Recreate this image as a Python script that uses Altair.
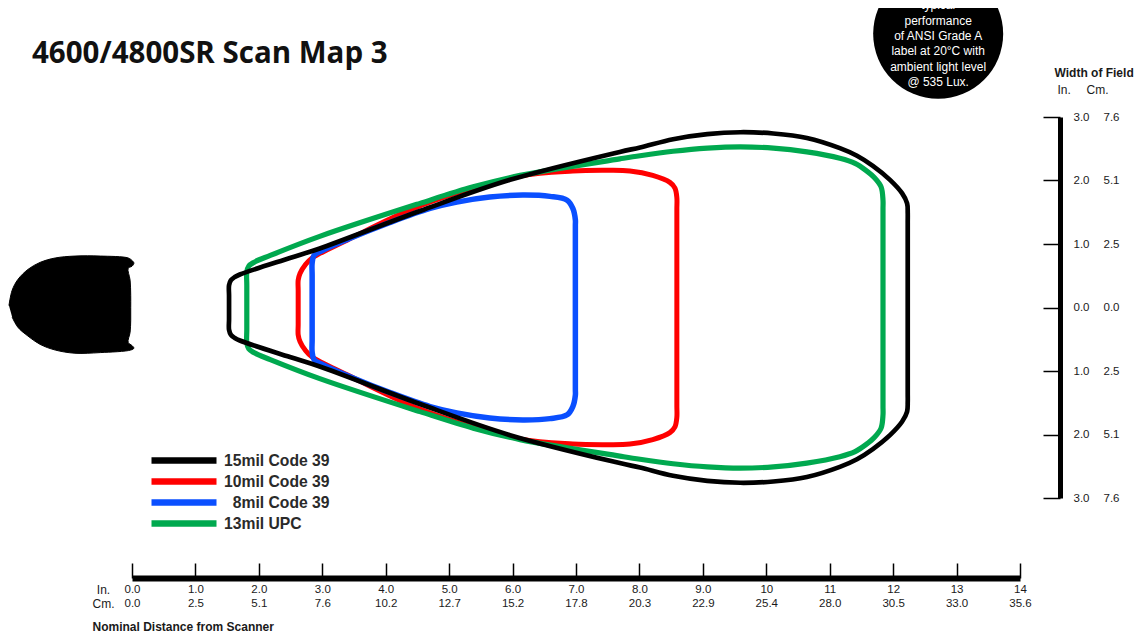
import json
import altair as alt
import pandas as pd

SERIES = ["15mil Code 39", "10mil Code 39", "\u200b\u20078mil Code 39", "13mil UPC"]
COLORS = ["#000000", "#ff0000", "#0a4fff", "#00a94f"]

black_x = [1.53, 1.53, 1.53, 1.56, 1.62, 1.70, 2.49, 2.96, 4.54, 5.96, 7.69, 8.01, 8.53, 9.07, 9.59, 10.11, 10.64, 11.16, 11.43, 11.68, 11.95, 12.14, 12.22, 12.23, 12.23, 12.23]
black_y = [0, 0.19, 0.35, 0.43, 0.48, 0.52, 0.78, 0.93, 1.52, 2.01, 2.45, 2.52, 2.65, 2.73, 2.76, 2.74, 2.67, 2.51, 2.39, 2.23, 2.01, 1.80, 1.64, 1.49, 1.34, 0]
red_x = [2.62, 2.62, 2.62, 2.65, 2.73, 2.84, 3.39, 4.54, 6.12, 6.95, 7.49, 7.85, 8.21, 8.48, 8.56, 8.59, 8.59, 8.59, 8.59]
red_y = [0, 0.27, 0.43, 0.54, 0.67, 0.78, 1.06, 1.60, 2.07, 2.15, 2.16, 2.15, 2.08, 1.97, 1.88, 1.73, 1.56, 1.47, 0]
blue_x = [2.84, 2.84, 2.84, 2.87, 3.01, 3.44, 4.07, 4.70, 5.12, 5.64, 6.16, 6.59, 6.86, 6.95, 6.99, 6.99, 6.99]
blue_y = [0, 0.51, 0.70, 0.82, 0.90, 1.09, 1.34, 1.56, 1.66, 1.74, 1.77, 1.75, 1.69, 1.56, 1.38, 1.29, 0]
green_x = [1.81, 1.81, 1.81, 1.84, 1.92, 2.18, 2.96, 4.54, 5.38, 6.12, 7.69, 8.01, 8.53, 9.07, 9.59, 10.11, 10.64, 11.16, 11.40, 11.57, 11.71, 11.81, 11.84, 11.84, 11.84, 11.84]
green_y = [0, 0.35, 0.56, 0.65, 0.71, 0.82, 1.12, 1.64, 1.90, 2.08, 2.34, 2.39, 2.46, 2.51, 2.53, 2.51, 2.45, 2.35, 2.27, 2.16, 2.04, 1.90, 1.69, 1.56, 1.34, 0]

scanner_x = [-1.94, -1.89, -1.80, -1.64, -1.45, -1.21, -0.90, -0.50, -0.06, 0, 0.03, 0, -0.06, -0.03, -0.02, -0.02, -0.02, -0.03, -0.06, 0, 0.03, -0.02, -0.50, -0.90, -1.21, -1.45, -1.64, -1.80, -1.89]
scanner_y = [0.03, 0.27, 0.44, 0.60, 0.71, 0.78, 0.81, 0.81, 0.78, 0.74, 0.70, 0.65, 0.62, 0.43, 0.19, 0, -0.20, -0.39, -0.55, -0.60, -0.64, -0.67, -0.71, -0.72, -0.67, -0.58, -0.45, -0.31, -0.15]

x_ticks = list(range(15))
x_in_labels = ["0.0", "1.0", "2.0", "3.0", "4.0", "5.0", "6.0", "7.0", "8.0", "9.0", "10", "11", "12", "13", "14"]
x_cm_labels = ["0.0", "2.5", "5.1", "7.6", "10.2", "12.7", "15.2", "17.8", "20.3", "22.9", "25.4", "28.0", "30.5", "33.0", "35.6"]
y_ticks = [-3, -2, -1, 0, 1, 2, 3]
y_in_labels = ["3.0", "2.0", "1.0", "0.0", "1.0", "2.0", "3.0"]
y_cm_labels = ["7.6", "5.1", "2.5", "0.0", "2.5", "5.1", "7.6"]

badge_lines = ["typical", "performance", "of ANSI Grade A", "label at 20\u00b0C with", "ambient light level", "@ 535 Lux."]
badge_text_y = [4.77, 4.51, 4.28, 4.04, 3.79, 3.55]
badge_x = 12.71
badge_y = 4.31

FONT = "Liberation Sans"
INK = "#1a1a1a"
xs = alt.Scale(domain=[0, 14], zero=False, nice=False)
ys = alt.Scale(domain=[-3, 3], zero=False, nice=False)
color_scale = alt.Scale(domain=SERIES, range=COLORS)


def outline(name, xv, yv):
    xx = list(xv) + list(reversed(xv[:-1]))
    yy = list(yv) + [-v for v in reversed(yv[:-1])]
    return pd.DataFrame({"x": xx, "y": yy, "series": name, "i": range(len(xx))})


def line_layer(name, xv, yv, sw):
    return alt.Chart(outline(name, xv, yv)).mark_line(
        strokeWidth=sw, interpolate="catmull-rom", strokeJoin="round"
    ).encode(
        x=alt.X("x:Q", scale=xs, axis=None),
        y=alt.Y("y:Q", scale=ys, axis=None),
        order="i:Q",
        color=alt.Color(
            "series:N", scale=color_scale,
            legend=alt.Legend(
                orient="none", legendX=16, legendY=333, title=None,
                symbolType="stroke", symbolSize=4225, symbolStrokeWidth=6.5,
                clipHeight=21, labelFontSize=15.7, labelFont=FONT, labelFontWeight="bold",
                labelColor="#2a2a2a", labelOffset=4, rowPadding=0,
            ),
        ),
    )


def x_axis_layer(**axis):
    return alt.Chart(pd.DataFrame({"v": x_ticks})).mark_point(opacity=0).encode(
        x=alt.X("v:Q", scale=xs, title=axis.pop("title", None), axis=alt.Axis(values=x_ticks, grid=False, labelOverlap=False, labelFlush=False, **axis))
    )


def y_axis_layer(**axis):
    return alt.Chart(pd.DataFrame({"v": y_ticks})).mark_point(opacity=0).encode(
        y=alt.Y("v:Q", scale=ys, title=axis.pop("title", None), axis=alt.Axis(values=y_ticks, grid=False, labelOverlap=False, labelFlush=False, **axis))
    )


label_style = dict(domain=False, ticks=False, labels=True, labelPadding=0, labelFont=FONT, labelFontSize=11.5,
                   labelColor=INK, titleFont=FONT, titleFontSize=12, titleFontWeight="normal", titleColor=INK,
                   titleAngle=0, titleBaseline="middle")

layers = [
    x_axis_layer(orient="top", offset=-461, domainWidth=6, domainColor="black", ticks=True, tickSize=15, tickWidth=1.5,
                 tickColor="black", labels=False, title="Nominal Distance from Scanner", titleX=-40, titleY=48,
                 titleAlign="left", titleBaseline="middle", titleFont=FONT, titleFontSize=12, titleFontWeight="bold",
                 titleColor=INK),
    x_axis_layer(orient="bottom", offset=91, labelBaseline="middle", labelAlign="center",
                 labelExpr=f"{json.dumps(x_in_labels)}[datum.value]", title="In.", titleX=-29, titleY=0, titleAlign="center",
                 **label_style),
    x_axis_layer(orient="bottom", offset=105, labelBaseline="middle", labelAlign="center",
                 labelExpr=f"{json.dumps(x_cm_labels)}[datum.value]", title="Cm.", titleX=-29, titleY=0, titleAlign="center",
                 **label_style),
    y_axis_layer(orient="left", offset=-928, domainWidth=5, domainColor="black", ticks=True, tickSize=17, tickWidth=1.5,
                 tickColor="black", labels=False, title="Width of Field", titleX=-6, titleY=-45, titleAngle=0,
                 titleAlign="left", titleBaseline="middle", titleFont=FONT, titleFontSize=12, titleFontWeight="bold",
                 titleColor=INK),
    y_axis_layer(orient="right", offset=53, labelBaseline="middle", labelAlign="left",
                 labelExpr=f"{json.dumps(y_in_labels)}[datum.value + 3]", title="In.", titleX=-16, titleY=-28, titleAlign="left",
                 **label_style),
    y_axis_layer(orient="right", offset=83, labelBaseline="middle", labelAlign="left",
                 labelExpr=f"{json.dumps(y_cm_labels)}[datum.value + 3]", title="Cm.", titleX=-17, titleY=-28, titleAlign="left",
                 **label_style),
    line_layer(SERIES[1], red_x, red_y, 5),
    line_layer(SERIES[2], blue_x, blue_y, 5.5),
    line_layer(SERIES[3], green_x, green_y, 5.2),
    line_layer(SERIES[0], black_x, black_y, 4.7),
    alt.Chart(pd.DataFrame({"x": scanner_x, "y": scanner_y, "i": range(len(scanner_x))})).mark_line(
        fill="black", stroke="black", strokeWidth=1, interpolate="catmull-rom"
    ).encode(x=alt.X("x:Q", scale=xs, axis=None), y=alt.Y("y:Q", scale=ys, axis=None), order="i:Q"),
    alt.Chart(pd.DataFrame({"x": [badge_x], "y": [badge_y]})).mark_point(filled=True, color="black", opacity=1, size=16900).encode(
        x=alt.X("x:Q", scale=xs, axis=None), y=alt.Y("y:Q", scale=ys, axis=None)
    ),
    alt.Chart(pd.DataFrame({"x": badge_x, "y": badge_text_y, "t": badge_lines})).mark_text(
        color="white", font=FONT, fontSize=12, baseline="middle", align="center"
    ).encode(x=alt.X("x:Q", scale=xs, axis=None), y=alt.Y("y:Q", scale=ys, axis=None), text="t:N"),
]

chart = alt.layer(*layers).resolve_axis(x="independent", y="independent").properties(
    width=888,
    height=381,
    autosize=alt.AutoSizeParams(type="none"),
    padding={"left": 124, "top": 109, "right": 114, "bottom": 136},
    title=alt.TitleParams(
        text="4600/4800SR Scan Map 3", anchor="start", frame="group", dx=-100, dy=101, offset=0,
        font="Open Sans", fontWeight="bold", fontSize=29.5, color="#111111",
    ),
).configure_view(stroke=None)

chart.save("out.html", embed_options={"renderer": "svg", "actions": False})
